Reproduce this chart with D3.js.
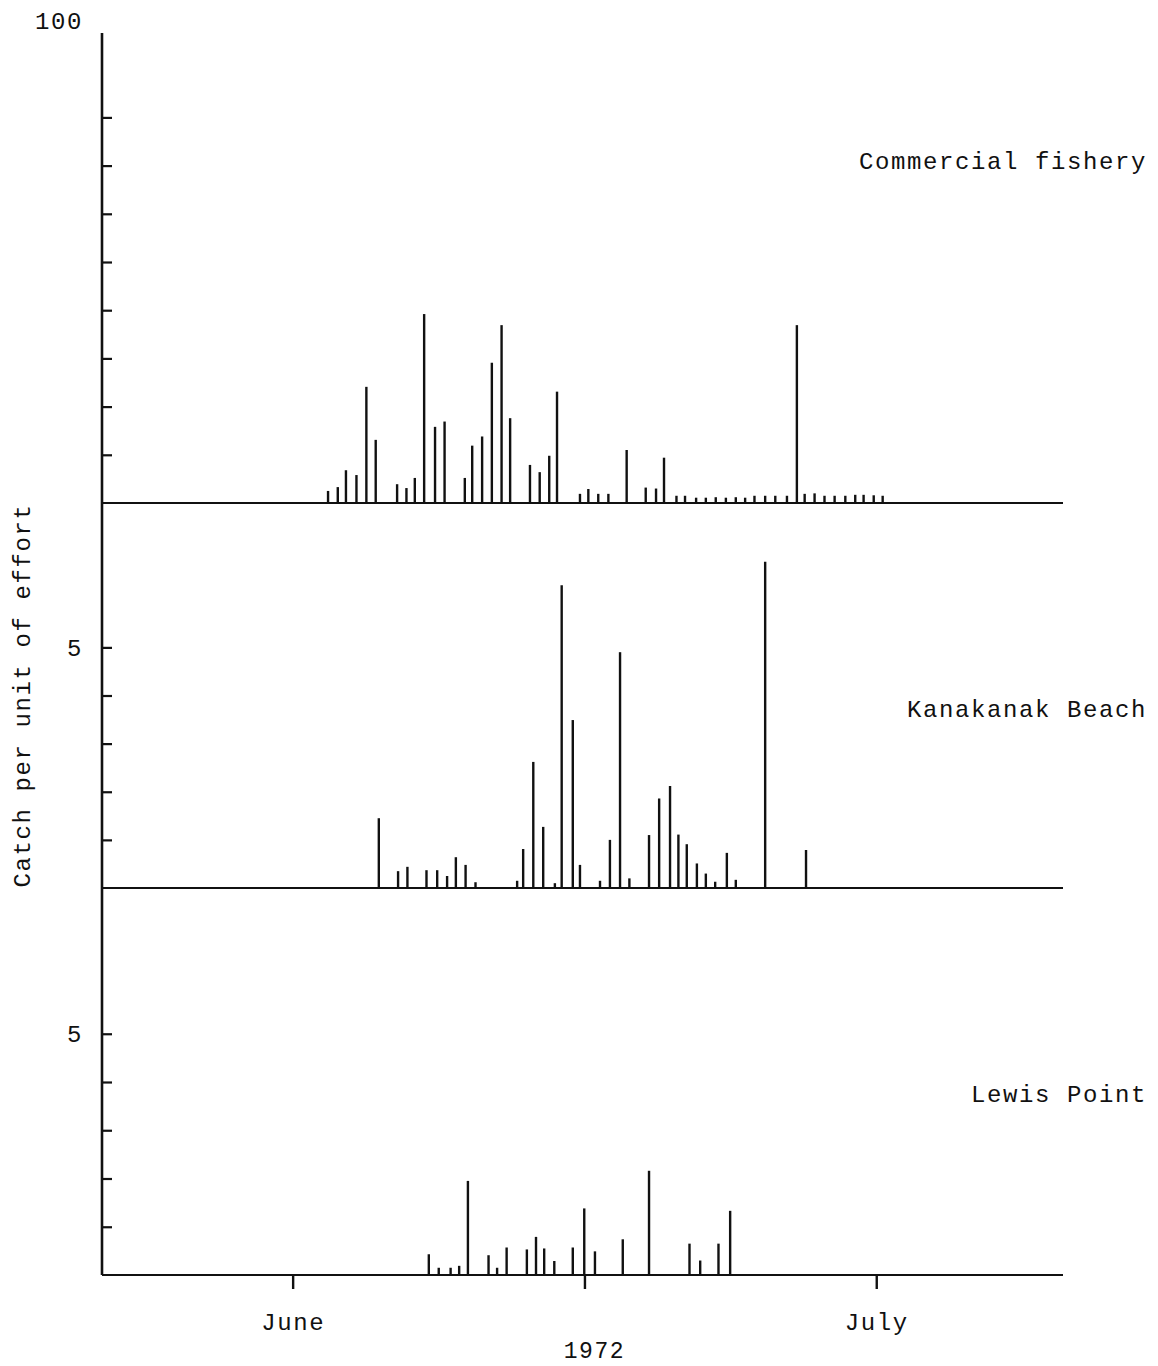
<!DOCTYPE html>
<html>
<head>
<meta charset="utf-8">
<script src="https://cdn.jsdelivr.net/npm/d3@7"></script>
<style>
  html, body { margin: 0; padding: 0; background: #fff; }
  svg text { font-family: "Liberation Mono", "DejaVu Sans Mono", monospace; font-size: 24px; fill: #111; letter-spacing: 1.6px; }
</style>
</head>
<body>
<svg id="chart" width="1158" height="1366"></svg>
<script>
// Days counted from 1 June 1972 (0 = June 1, 30 = July 1)
const commercialDays = [1.82, 2.32, 2.74, 3.28, 3.79, 4.27, 5.37, 5.85, 6.28, 6.76, 7.32, 7.81,
  8.85, 9.23, 9.74, 10.24, 10.74, 11.18, 12.20, 12.70, 13.19, 13.59, 14.77, 15.20, 15.71, 16.23,
  17.17, 18.15, 18.68, 19.09, 19.73, 20.17, 20.74, 21.24, 21.75, 22.27, 22.78, 23.26, 23.74, 24.29,
  24.81, 25.41, 25.92, 26.32, 26.83, 27.34, 27.86, 28.41, 28.92, 29.35, 29.87, 30.33];
const commercialCpue = [2.5, 3.3, 6.8, 5.8, 24.1, 13.1, 3.9, 3.1, 5.2, 39.2, 15.8, 16.9,
  5.2, 11.9, 13.8, 29.1, 36.9, 17.6, 7.9, 6.4, 9.8, 23.1, 1.9, 2.9, 1.9, 1.9,
  11.0, 3.2, 3.0, 9.4, 1.5, 1.5, 1.1, 1.1, 1.2, 1.1, 1.2, 1.1, 1.5, 1.5,
  1.5, 1.5, 36.9, 1.9, 2.0, 1.5, 1.5, 1.5, 1.7, 1.7, 1.6, 1.5];

const kanakanakDays = [4.43, 5.42, 5.90, 6.88, 7.43, 7.94, 8.39, 8.89, 9.40, 11.54, 11.85, 12.37,
  12.88, 13.48, 13.83, 14.40, 14.77, 15.80, 16.31, 16.83, 17.31, 18.32, 18.84, 19.40, 19.83,
  20.26, 20.78, 21.24, 21.72, 22.32, 22.78, 24.29, 26.39];
const kanakanakCpue = [1.45, 0.35, 0.44, 0.37, 0.37, 0.25, 0.64, 0.48, 0.12, 0.15, 0.81, 2.62,
  1.27, 0.10, 6.29, 3.49, 0.48, 0.15, 1.00, 4.90, 0.20, 1.10, 1.86, 2.12, 1.11,
  0.91, 0.51, 0.30, 0.13, 0.73, 0.17, 6.78, 0.79];

const lewisDays = [7.00, 7.51, 8.12, 8.56, 9.01, 10.07, 10.51, 11.00, 12.04, 12.51, 12.93, 13.45,
  14.40, 14.99, 15.54, 16.97, 18.32, 20.40, 20.95, 21.89, 22.49];
const lewisCpue = [0.43, 0.15, 0.15, 0.19, 1.95, 0.41, 0.15, 0.57, 0.53, 0.79, 0.55, 0.29,
  0.57, 1.38, 0.49, 0.74, 2.16, 0.65, 0.30, 0.65, 1.33];

const panelNames = ["Commercial fishery", "Kanakanak Beach", "Lewis Point"];
const xTickDays = [0, 15, 30];
const xTickLabels = ["June", "", "July"];
const yearLabel = "1972";
const yTitle = "Catch per unit of effort";

const ink = "#111";
const svg = d3.select("#chart");

const x = d3.scaleLinear().domain([-9.8, 39.6]).range([102, 1063]);

const panels = [
  { name: panelNames[0], days: commercialDays, vals: commercialCpue,
    y: d3.scaleLinear().domain([0, 100]).range([503, 21]),
    ticks: [10, 20, 30, 40, 50, 60, 70, 80, 100], labelled: 100, top: 97.5, nameY: 169 },
  { name: panelNames[1], days: kanakanakDays, vals: kanakanakCpue,
    y: d3.scaleLinear().domain([0, 8]).range([888, 503]),
    ticks: [1, 2, 3, 4, 5], labelled: 5, top: 8, nameY: 717 },
  { name: panelNames[2], days: lewisDays, vals: lewisCpue,
    y: d3.scaleLinear().domain([0, 8]).range([1275, 889]),
    ticks: [1, 2, 3, 4, 5], labelled: 5, top: 8, nameY: 1102 }
];

panels.forEach((p, i) => {
  const g = svg.append("g");

  // baseline of the panel
  g.append("line")
    .attr("x1", x.range()[0]).attr("x2", x.range()[1])
    .attr("y1", p.y(0)).attr("y2", p.y(0))
    .attr("stroke", ink).attr("stroke-width", 2.2);

  // left axis: ticks point inward, only one value is labelled
  const ax = d3.axisLeft(p.y)
    .tickValues(p.ticks)
    .tickSizeInner(-10).tickSizeOuter(0).tickPadding(19)
    .tickFormat(d => d === p.labelled ? String(d) : "");
  const axG = g.append("g").attr("transform", `translate(${x.range()[0]},0)`).call(ax);
  axG.select(".domain").remove();
  axG.selectAll(".tick line").attr("stroke", ink).attr("stroke-width", 2.2)
    .filter(d => d > p.top).remove();
  axG.selectAll(".tick text").attr("fill", ink)
    .style("font-family", "'Liberation Mono', monospace").style("font-size", "24px");

  // one spike per tide
  g.selectAll("line.spike")
    .data(p.days.map((d, k) => ({ day: d, v: p.vals[k] })))
    .join("line")
    .attr("class", "spike")
    .attr("x1", d => x(d.day)).attr("x2", d => x(d.day))
    .attr("y1", p.y(0)).attr("y2", d => p.y(d.v))
    .attr("stroke", ink).attr("stroke-width", 2.4);

  g.append("text")
    .attr("x", 1147).attr("y", p.nameY)
    .attr("text-anchor", "end")
    .text(p.name);
});

// continuous vertical axis through all three panels
svg.append("line")
  .attr("x1", x.range()[0]).attr("x2", x.range()[0])
  .attr("y1", panels[2].y(0)).attr("y2", panels[0].y(panels[0].top))
  .attr("stroke", ink).attr("stroke-width", 2.6);

// date axis under the bottom panel
const xAxis = d3.axisBottom(x)
  .tickValues(xTickDays)
  .tickSizeInner(14).tickSizeOuter(0).tickPadding(24)
  .tickFormat((d, k) => xTickLabels[k]);
const xg = svg.append("g").attr("transform", `translate(0,${panels[2].y(0)})`).call(xAxis);
xg.select(".domain").remove();
xg.selectAll(".tick line").attr("stroke", ink).attr("stroke-width", 2.4);
xg.selectAll(".tick text").attr("fill", ink)
  .style("font-family", "'Liberation Mono', monospace").style("font-size", "24px");

svg.append("text")
  .attr("x", x(15) + 10).attr("y", 1358)
  .attr("text-anchor", "middle")
  .style("font-size", "23px")
  .text(yearLabel);

svg.append("text")
  .attr("transform", `translate(30,${panels[1].y(4)}) rotate(-90)`)
  .attr("text-anchor", "middle")
  .text(yTitle);
</script>
</body>
</html>
